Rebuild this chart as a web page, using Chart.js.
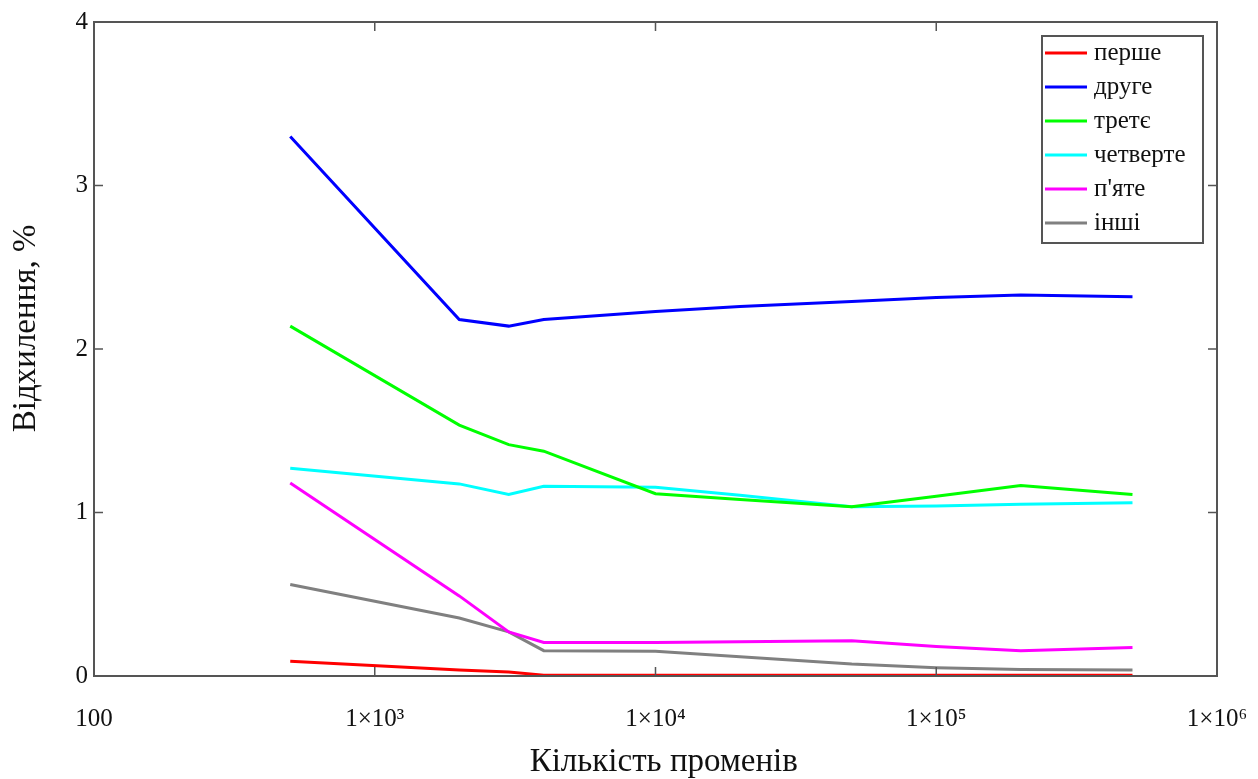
<!DOCTYPE html>
<html>
<head>
<meta charset="utf-8">
<script src="https://cdn.jsdelivr.net/npm/chart.js@4.4.1/dist/chart.umd.min.js"></script>
<style>
  html, body { margin: 0; padding: 0; background: #fff; }
  #wrap { width: 1258px; height: 779px; position: relative; }
</style>
</head>
<body>
<div id="wrap"><canvas id="chart"></canvas></div>
<script>
// number of rays (x values)
const rays = [500, 2000, 3000, 4000, 10000, 20000, 50000, 100000, 200000, 500000];

// deviation, % for each series
const first  = [0.09, 0.037, 0.025, 0.005, 0.005, 0.005, 0.005, 0.005, 0.005, 0.005];
const second = [3.30, 2.18, 2.14, 2.18, 2.23, 2.26, 2.29, 2.315, 2.33, 2.32];
const third  = [2.14, 1.535, 1.415, 1.375, 1.115, 1.08, 1.035, 1.10, 1.165, 1.11];
const fourth = [1.27, 1.175, 1.11, 1.16, 1.155, 1.105, 1.035, 1.04, 1.05, 1.06];
const fifth  = [1.18, 0.49, 0.27, 0.205, 0.205, 0.21, 0.215, 0.18, 0.155, 0.175];
const others = [0.56, 0.355, 0.27, 0.155, 0.152, 0.118, 0.073, 0.051, 0.04, 0.037];

const seriesNames = ["перше", "друге", "третє", "четверте", "п'яте", "інші"];
const seriesColors = ["#ff0000", "#0000ff", "#00ff00", "#00ffff", "#ff00ff", "#808080"];
const seriesValues = [first, second, third, fourth, fifth, others];

const xTicks = [100, 1e3, 1e4, 1e5, 1e6];
const yTicks = [0, 1, 2, 3, 4];

const sup = { '0': '⁰', '1': '¹', '2': '²', '3': '³', '4': '⁴', '5': '⁵', '6': '⁶', '7': '⁷', '8': '⁸', '9': '⁹' };
function fmtX(v) {
  if (v === 100) return '100';
  const e = String(Math.round(Math.log10(v)));
  return '1×10' + e.split('').map(c => sup[c]).join('');
}

const serif = "'Liberation Serif', 'DejaVu Serif', serif";
const frameColor = '#555555';

// frame + inward tick marks
const framePlugin = {
  id: 'frame',
  afterDatasetsDraw(chart) {
    const { ctx, chartArea: a, scales } = chart;
    ctx.save();
    ctx.strokeStyle = frameColor;
    ctx.lineWidth = 2;
    ctx.strokeRect(a.left, a.top, a.right - a.left, a.bottom - a.top);
    ctx.lineWidth = 1.5;
    const len = 9;
    ctx.beginPath();
    xTicks.slice(1, -1).forEach(v => {
      const px = scales.x.getPixelForValue(v);
      ctx.moveTo(px, a.bottom); ctx.lineTo(px, a.bottom - len);
      ctx.moveTo(px, a.top); ctx.lineTo(px, a.top + len);
    });
    yTicks.slice(1, -1).forEach(v => {
      const py = scales.y.getPixelForValue(v);
      ctx.moveTo(a.left, py); ctx.lineTo(a.left + len, py);
      ctx.moveTo(a.right, py); ctx.lineTo(a.right - len, py);
    });
    ctx.stroke();
    ctx.restore();
  }
};

// boxed legend in the top right corner of the plot
const legendPlugin = {
  id: 'boxLegend',
  afterDraw(chart) {
    const { ctx, chartArea: a } = chart;
    const w = 161, h = 207;
    const bx = a.right - 14 - w, by = a.top + 14;
    ctx.save();
    ctx.fillStyle = '#fff';
    ctx.fillRect(bx, by, w, h);
    ctx.strokeStyle = frameColor;
    ctx.lineWidth = 2;
    ctx.strokeRect(bx, by, w, h);
    ctx.font = "25px " + serif;
    ctx.textBaseline = 'middle';
    ctx.fillStyle = '#111';
    chart.data.datasets.forEach((ds, i) => {
      const y = by + 17 + i * 34;
      ctx.strokeStyle = ds.borderColor;
      ctx.lineWidth = 3;
      ctx.beginPath();
      ctx.moveTo(bx + 3, y);
      ctx.lineTo(bx + 45, y);
      ctx.stroke();
      ctx.fillText(ds.label, bx + 52, y);
    });
    ctx.restore();
  }
};

const datasets = seriesNames.map((name, i) => ({
  label: name,
  data: rays.map((r, j) => ({ x: r, y: seriesValues[i][j] })),
  borderColor: seriesColors[i],
  borderWidth: 3,
  pointRadius: 0,
  tension: 0,
  fill: false
}));

new Chart(document.getElementById('chart'), {
  type: 'line',
  data: { datasets },
  options: {
    responsive: true,
    maintainAspectRatio: false,
    animation: false,
    layout: { padding: { top: 22, right: 41, bottom: 0, left: 0 } },
    plugins: {
      legend: { display: false },
      tooltip: { enabled: false }
    },
    scales: {
      x: {
        type: 'logarithmic',
        min: 100,
        max: 1e6,
        afterBuildTicks: scale => { scale.ticks = xTicks.map(v => ({ value: v })); },
        afterFit: scale => {
          scale.height = 103;
          scale.paddingLeft = 0;
          scale.paddingRight = 0;
        },
        grid: { display: false, drawTicks: false },
        border: { display: false },
        ticks: {
          autoSkip: false,
          maxRotation: 0,
          padding: 28,
          color: '#111',
          font: { family: serif, size: 25 },
          callback: v => fmtX(v)
        },
        title: {
          display: true,
          text: '  Кількість променів',
          color: '#111',
          font: { family: serif, size: 33 },
          padding: { top: 0, bottom: -3 }
        }
      },
      y: {
        min: 0,
        max: 4,
        afterBuildTicks: scale => { scale.ticks = yTicks.map(v => ({ value: v })); },
        afterFit: scale => {
          scale.width = 94;
          scale.paddingTop = 0;
          scale.paddingBottom = 0;
        },
        grid: { display: false, drawTicks: false },
        border: { display: false },
        ticks: {
          padding: 6,
          color: '#111',
          font: { family: serif, size: 25 }
        },
        title: {
          display: true,
          text: '     Відхилення, %',
          color: '#111',
          font: { family: serif, size: 33 },
          padding: { top: 7, bottom: 0 }
        }
      }
    }
  },
  plugins: [framePlugin, legendPlugin]
});
</script>
</body>
</html>
